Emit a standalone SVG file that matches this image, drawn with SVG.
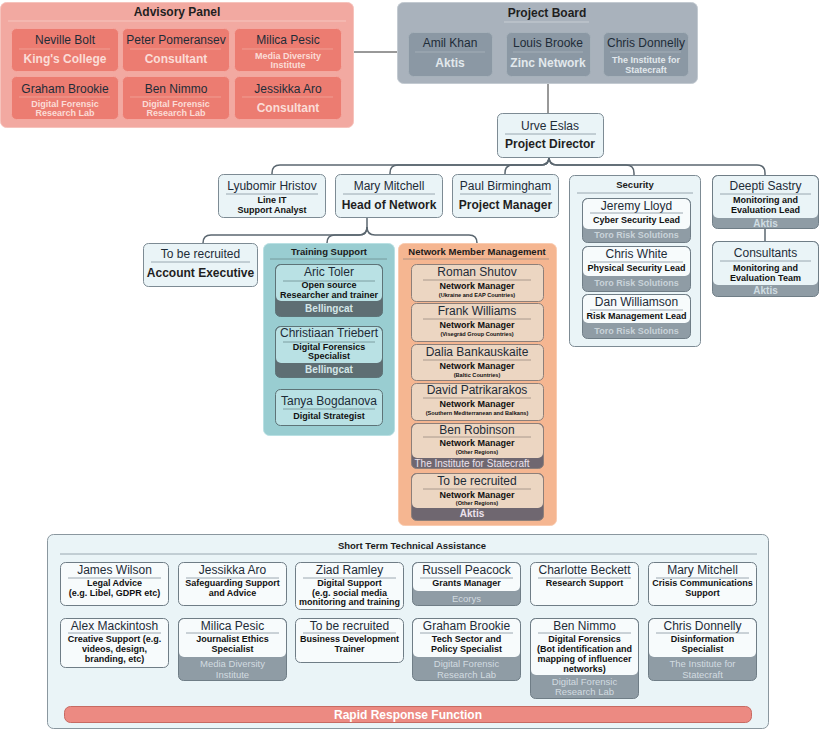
<svg xmlns="http://www.w3.org/2000/svg" width="819" height="731" viewBox="0 0 819 731">
<style>
text{font-family:'Liberation Sans',Arial,Helvetica,sans-serif;text-anchor:middle}
.n{font-size:12px;fill:#1e2c38}
.t{font-size:12px;font-weight:bold;fill:#1f1f1f}
.g{font-size:9.5px;font-weight:bold;fill:#1b1b1b}
.r{font-size:9px;font-weight:bold;fill:#111}
.rs{font-size:5.6px;font-weight:bold;fill:#111}
.ap{font-size:12px;font-weight:bold;fill:#fbdcd7}
.aps{font-size:9px;font-weight:bold;fill:#fbdcd7}
.bp{font-size:12px;font-weight:bold;fill:#e2e8ec}
.bps{font-size:9px;font-weight:bold;fill:#e2e8ec}
.bd{font-size:9px;font-weight:bold;fill:#c9d3d9}
.bd10{font-size:10px;font-weight:bold;fill:#d0dde2}
.bdt{font-size:10px;font-weight:bold;fill:#d4e6e8}
.bdn{font-size:10px;font-weight:bold;fill:#ece2ec}
.nmt{font-size:10px;fill:#ece2ec}
.sb{font-size:9.5px;fill:#d2dbe0}
.lt{fill:#eaf4f7;stroke:#7d8b94;stroke-width:1}
.ain{fill:#ec7c71;stroke:#f4a79f;stroke-width:1}
.asep{stroke:#f3a69d;stroke-width:0.8}
.bin{fill:#8b98a4;stroke:#a6b1ba;stroke-width:1}
.bsep{stroke:#a9b4bd;stroke-width:0.8}
.sep{stroke:#8795a0;stroke-width:0.8}
.ol{fill:none;stroke:#6f7d86;stroke-width:1}
.wt{fill:#f7fbfc}
.gb{fill:#8f9ca5}
.tin{fill:#b9e1e4}
.tb{fill:#5e6e73}
.tol{fill:none;stroke:#5d7377;stroke-width:1}
.tsep{stroke:#6d8d91;stroke-width:0.8}
.nin{fill:#ecd6c2}
.nb{fill:#6f6770}
.nol{fill:none;stroke:#8d7f79;stroke-width:1}
.nsep{stroke:#9a8a80;stroke-width:0.8}
.con{fill:none;stroke:#5b6770;stroke-width:1.5}
.dk{fill:none;stroke:#333;stroke-width:1}
</style>

<g id="connectors">
<line class="dk" x1="354" y1="52" x2="397" y2="52"/>
<line class="dk" x1="548" y1="83" x2="548" y2="113"/>
<path class="con" d="M549,157 q0,8 -8,8 H280 q-8,0 -8,8 v1"/>
<path class="con" d="M549,157 q0,8 -8,8 H398 q-8,0 -8,8 v1"/>
<path class="con" d="M549,157 q0,8 -8,8 H513 q-8,0 -8,8 v1"/>
<path class="con" d="M549,157 q0,8 8,8 H626 q8,0 8,8 v2"/>
<path class="con" d="M549,157 q0,8 8,8 H757 q8,0 8,8 v2"/>
<line class="con" x1="765" y1="228" x2="765" y2="241"/>
<path class="con" d="M367,218 v9 q0,8 -8,8 H211 q-8,0 -8,8"/>
<path class="con" d="M367,227 q0,8 -8,8 H335 q-8,0 -8,8"/>
<path class="con" d="M367,227 q0,8 8,8 H469 q8,0 8,8"/>
</g>

<g id="advisory-panel">
<rect x="0.5" y="2.5" width="353" height="125" rx="6" fill="#f2a9a1" stroke="#f6c3bc"/>
<text class="t" x="177" y="16">Advisory Panel</text>
<line x1="8" y1="21" x2="346" y2="21" stroke="#f6c5be"/>
<g id="neville-bolt"><rect class="ain" x="11.5" y="28.5" width="107" height="43" rx="5"/><text class="n" x="65" y="44">Neville Bolt</text><line class="asep" x1="19" y1="49" x2="110" y2="49"/><text class="ap" x="65" y="63">King's College</text></g>
<g id="peter-pomeransev"><rect class="ain" x="122.5" y="28.5" width="107" height="43" rx="5"/><text class="n" x="176" y="44">Peter Pomeransev</text><line class="asep" x1="130" y1="49" x2="221" y2="49"/><text class="ap" x="176" y="63">Consultant</text></g>
<g id="milica-pesic-ap"><rect class="ain" x="234.5" y="28.5" width="107" height="43" rx="5"/><text class="n" x="288" y="44">Milica Pesic</text><line class="asep" x1="242" y1="49" x2="333" y2="49"/><text class="aps" x="288" y="59">Media Diversity</text><text class="aps" x="288" y="68">Institute</text></g>
<g id="graham-brookie-ap"><rect class="ain" x="11.5" y="76.5" width="107" height="43" rx="5"/><text class="n" x="65" y="93">Graham Brookie</text><line class="asep" x1="19" y1="97" x2="110" y2="97"/><text class="aps" x="65" y="107">Digital Forensic</text><text class="aps" x="65" y="116">Research Lab</text></g>
<g id="ben-nimmo-ap"><rect class="ain" x="122.5" y="76.5" width="107" height="43" rx="5"/><text class="n" x="176" y="93">Ben Nimmo</text><line class="asep" x1="130" y1="97" x2="221" y2="97"/><text class="aps" x="176" y="107">Digital Forensic</text><text class="aps" x="176" y="116">Research Lab</text></g>
<g id="jessikka-aro-ap"><rect class="ain" x="234.5" y="76.5" width="107" height="43" rx="5"/><text class="n" x="288" y="93">Jessikka Aro</text><line class="asep" x1="242" y1="97" x2="333" y2="97"/><text class="ap" x="288" y="112">Consultant</text></g>
</g>

<g id="project-board">
<rect x="397.5" y="2.5" width="300" height="81" rx="6" fill="#a9b2bc" stroke="#c3cad1"/>
<text class="t" x="547" y="17">Project Board</text>
<line x1="504" y1="22" x2="589" y2="22" stroke="#c8ced4"/>
<g id="amil-khan"><rect class="bin" x="408.5" y="32.5" width="84" height="44" rx="5"/><text class="n" x="450" y="47">Amil Khan</text><line class="bsep" x1="415" y1="52" x2="485" y2="52"/><text class="bp" x="450" y="67">Aktis</text></g>
<g id="louis-brooke"><rect class="bin" x="506.5" y="32.5" width="84" height="44" rx="5"/><text class="n" x="548" y="47">Louis Brooke</text><line class="bsep" x1="513" y1="52" x2="583" y2="52"/><text class="bp" x="548" y="67">Zinc Network</text></g>
<g id="chris-donnelly-pb"><rect class="bin" x="603.5" y="32.5" width="85" height="44" rx="5"/><text class="n" x="646" y="47">Chris Donnelly</text><line class="bsep" x1="610" y1="52" x2="681" y2="52"/><text class="bps" x="646" y="63">The Institute for</text><text class="bps" x="646" y="73">Statecraft</text></g>
</g>

<g id="urve-eslas"><rect class="lt" x="497.5" y="113.5" width="106" height="44" rx="5"/><text class="n" x="550" y="130">Urve Eslas</text><line class="sep" x1="505" y1="134" x2="596" y2="134"/><text class="t" x="550" y="148">Project Director</text></g>

<g id="lyubomir-hristov"><rect class="lt" x="218.5" y="174.5" width="107" height="43" rx="5"/><text class="n" x="272" y="190">Lyubomir Hristov</text><line class="sep" x1="226" y1="194" x2="318" y2="194"/><text class="r" x="272" y="203">Line IT</text><text class="r" x="272" y="213">Support Analyst</text></g>
<g id="mary-mitchell"><rect class="lt" x="335.5" y="174.5" width="107" height="43" rx="5"/><text class="n" x="389" y="190">Mary Mitchell</text><line class="sep" x1="343" y1="194" x2="435" y2="194"/><text class="t" x="389" y="209">Head of Network</text></g>
<g id="paul-birmingham"><rect class="lt" x="452.5" y="174.5" width="106" height="43" rx="5"/><text class="n" x="505.5" y="190">Paul Birmingham</text><line class="sep" x1="460" y1="194" x2="551" y2="194"/><text class="t" x="505.5" y="209">Project Manager</text></g>

<g id="security">
<rect class="lt" x="569.5" y="175.5" width="131" height="171" rx="5"/>
<text class="g" x="635" y="188">Security</text>
<line class="sep" x1="577" y1="193" x2="693" y2="193"/>
<g id="jeremy-lloyd"><rect class="gb" x="582.5" y="198.5" width="108" height="44" rx="5"/><rect class="wt" x="583" y="199" width="107" height="30" rx="5"/><rect class="ol" x="582.5" y="198.5" width="108" height="44" rx="5"/><text class="n" x="636.5" y="209.5">Jeremy Lloyd</text><line class="sep" x1="590" y1="213" x2="683" y2="213"/><text class="r" x="636.5" y="223">Cyber Security Lead</text><text class="bd" x="636.5" y="238">Toro Risk Solutions</text></g>
<g id="chris-white"><rect class="gb" x="582.5" y="246.5" width="108" height="45" rx="5"/><rect class="wt" x="583" y="247" width="107" height="29" rx="5"/><rect class="ol" x="582.5" y="246.5" width="108" height="45" rx="5"/><text class="n" x="636.5" y="257.5">Chris White</text><line class="sep" x1="590" y1="262" x2="683" y2="262"/><text class="r" x="636.5" y="271">Physical Security Lead</text><text class="bd" x="636.5" y="286">Toro Risk Solutions</text></g>
<g id="dan-williamson"><rect class="gb" x="582.5" y="294.5" width="108" height="44" rx="5"/><rect class="wt" x="583" y="295" width="107" height="28" rx="5"/><rect class="ol" x="582.5" y="294.5" width="108" height="44" rx="5"/><text class="n" x="636.5" y="305.5">Dan Williamson</text><line class="sep" x1="590" y1="310" x2="683" y2="310"/><text class="r" x="636.5" y="319">Risk Management Lead</text><text class="bd" x="636.5" y="334">Toro Risk Solutions</text></g>
</g>

<g id="deepti-sastry"><rect class="gb" x="712.5" y="175.5" width="106" height="53" rx="5"/><rect fill="#eaf4f7" x="713" y="176" width="105" height="42" rx="5"/><rect class="ol" x="712.5" y="175.5" width="106" height="53" rx="5"/><text class="n" x="765.5" y="190">Deepti Sastry</text><line class="sep" x1="720" y1="194" x2="811" y2="194"/><text class="r" x="765.5" y="203">Monitoring and</text><text class="r" x="765.5" y="213">Evaluation Lead</text><text class="bd10" x="765.5" y="226.5">Aktis</text></g>
<g id="consultants"><rect class="gb" x="712.5" y="241.5" width="106" height="55" rx="5"/><rect fill="#eaf4f7" x="713" y="242" width="105" height="43" rx="5"/><rect class="ol" x="712.5" y="241.5" width="106" height="55" rx="5"/><text class="n" x="765.5" y="257">Consultants</text><line class="sep" x1="720" y1="261" x2="811" y2="261"/><text class="r" x="765.5" y="271">Monitoring and</text><text class="r" x="765.5" y="281">Evaluation Team</text><text class="bd10" x="765.5" y="294">Aktis</text></g>

<g id="account-executive"><rect class="lt" x="143.5" y="243.5" width="114" height="43" rx="5"/><text class="n" x="200.5" y="258">To be recruited</text><line class="sep" x1="151" y1="262" x2="250" y2="262"/><text class="t" x="200.5" y="277">Account Executive</text></g>

<g id="training-support">
<rect x="263.5" y="243.5" width="131" height="192" rx="6" fill="#99cdd1" stroke="#b9e0e3"/>
<text class="g" x="329" y="255">Training Support</text>
<line class="tsep" x1="270" y1="259" x2="387" y2="259"/>
<g id="aric-toler"><rect class="tb" x="275.5" y="264.5" width="107" height="52" rx="5"/><rect class="tin" x="276" y="265" width="106" height="36" rx="5"/><rect class="tol" x="275.5" y="264.5" width="107" height="52" rx="5"/><text class="n" x="329" y="275.5">Aric Toler</text><line class="tsep" x1="283" y1="281" x2="375" y2="281"/><text class="r" x="329" y="288">Open source</text><text class="r" x="329" y="297.5">Researcher and trainer</text><text class="bdt" x="329" y="312">Bellingcat</text></g>
<g id="christiaan-triebert"><rect class="tb" x="275.5" y="326.5" width="107" height="51" rx="5"/><rect class="tin" x="276" y="327" width="106" height="36" rx="5"/><rect class="tol" x="275.5" y="326.5" width="107" height="51" rx="5"/><text class="n" x="329" y="337">Christiaan Triebert</text><line class="tsep" x1="283" y1="342" x2="375" y2="342"/><text class="r" x="329" y="350">Digital Forensics</text><text class="r" x="329" y="359">Specialist</text><text class="bdt" x="329" y="373">Bellingcat</text></g>
<g id="tanya-bogdanova"><rect class="tin" x="275.5" y="389.5" width="107" height="36" rx="5" stroke="#5d7377"/><text class="n" x="329" y="405">Tanya Bogdanova</text><line class="tsep" x1="283" y1="409" x2="375" y2="409"/><text class="r" x="329" y="419">Digital Strategist</text></g>
</g>

<g id="network-member-management">
<rect x="398.5" y="243.5" width="158" height="282" rx="6" fill="#f5b691" stroke="#f9cbb0"/>
<text class="g" x="477" y="254.5">Network Member Management</text>
<line class="nsep" x1="403" y1="259" x2="549" y2="259"/>
<g id="roman-shutov"><rect class="nin" x="411.5" y="264.5" width="132" height="37" rx="5" stroke="#8d7f79"/><text class="n" x="477" y="275.5">Roman Shutov</text><line class="nsep" x1="423" y1="280" x2="531" y2="280"/><text class="r" x="477" y="289">Network Manager</text><text class="rs" x="477" y="297">(Ukraine and EAP Countries)</text></g>
<g id="frank-williams"><rect class="nin" x="411.5" y="303.5" width="132" height="38" rx="5" stroke="#8d7f79"/><text class="n" x="477" y="315">Frank Williams</text><line class="nsep" x1="423" y1="319" x2="531" y2="319"/><text class="r" x="477" y="328">Network Manager</text><text class="rs" x="477" y="336">(Visegrád Group Countries)</text></g>
<g id="dalia-bankauskaite"><rect class="nin" x="411.5" y="344.5" width="132" height="36" rx="5" stroke="#8d7f79"/><text class="n" x="477" y="355.5">Dalia Bankauskaite</text><line class="nsep" x1="423" y1="360" x2="531" y2="360"/><text class="r" x="477" y="369">Network Manager</text><text class="rs" x="477" y="377">(Baltic Countries)</text></g>
<g id="david-patrikarakos"><rect class="nin" x="411.5" y="383.5" width="132" height="37" rx="5" stroke="#8d7f79"/><text class="n" x="477" y="394">David Patrikarakos</text><line class="nsep" x1="423" y1="398" x2="531" y2="398"/><text class="r" x="477" y="407">Network Manager</text><text class="rs" x="477" y="415">(Southern Mediterranean and Balkans)</text></g>
<g id="ben-robinson"><rect class="nb" x="411.5" y="423.5" width="132" height="45" rx="5"/><rect class="nin" x="412" y="424" width="131" height="34" rx="5"/><rect class="nol" x="411.5" y="423.5" width="132" height="45" rx="5"/><text class="n" x="477" y="433.5">Ben Robinson</text><line class="nsep" x1="423" y1="437" x2="531" y2="437"/><text class="r" x="477" y="446">Network Manager</text><text class="rs" x="477" y="454">(Other Regions)</text><text class="nmt" x="472" y="466.5">The Institute for Statecraft</text></g>
<g id="to-be-recruited-nm"><rect class="nb" x="411.5" y="473.5" width="132" height="47" rx="5"/><rect class="nin" x="412" y="474" width="131" height="34" rx="5"/><rect class="nol" x="411.5" y="473.5" width="132" height="47" rx="5"/><text class="n" x="477" y="484.5">To be recruited</text><line class="nsep" x1="423" y1="489" x2="531" y2="489"/><text class="r" x="477" y="498">Network Manager</text><text class="rs" x="477" y="505">(Other Regions)</text><text class="bdn" x="472" y="517">Aktis</text></g>
</g>

<g id="short-term-technical-assistance">
<rect x="47.5" y="534.5" width="721" height="194" rx="6" fill="#eaf4f7" stroke="#8a979f"/>
<text class="g" x="412" y="548.5">Short Term Technical Assistance</text>
<line class="sep" x1="60" y1="554" x2="757" y2="554"/>

<g id="james-wilson"><rect class="wt" x="60.5" y="562.5" width="108" height="43" rx="5" stroke="#6f7d86"/><text class="n" x="114.5" y="573.5">James Wilson</text><line class="sep" x1="68" y1="578" x2="161" y2="578"/><text class="r" x="114.5" y="586">Legal Advice</text><text class="r" x="114.5" y="595.5">(e.g. Libel, GDPR etc)</text></g>
<g id="jessikka-aro"><rect class="wt" x="178.5" y="562.5" width="108" height="43" rx="5" stroke="#6f7d86"/><text class="n" x="232.5" y="573.5">Jessikka Aro</text><line class="sep" x1="186" y1="578" x2="279" y2="578"/><text class="r" x="232.5" y="586">Safeguarding Support</text><text class="r" x="232.5" y="595.5">and Advice</text></g>
<g id="ziad-ramley"><rect class="wt" x="295.5" y="562.5" width="108" height="47" rx="5" stroke="#6f7d86"/><text class="n" x="349.5" y="573.5">Ziad Ramley</text><line class="sep" x1="303" y1="578" x2="396" y2="578"/><text class="r" x="349.5" y="586">Digital Support</text><text class="r" x="349.5" y="595.5">(e.g. social media</text><text class="r" x="349.5" y="605">monitoring and training</text></g>
<g id="russell-peacock"><rect class="gb" x="412.5" y="562.5" width="108" height="43" rx="5"/><rect class="wt" x="413" y="563" width="107" height="28" rx="5"/><rect class="ol" x="412.5" y="562.5" width="108" height="43" rx="5"/><text class="n" x="466.5" y="573.5">Russell Peacock</text><line class="sep" x1="420" y1="578" x2="513" y2="578"/><text class="r" x="466.5" y="586">Grants Manager</text><text class="sb" x="466.5" y="601.5">Ecorys</text></g>
<g id="charlotte-beckett"><rect class="wt" x="530.5" y="562.5" width="108" height="43" rx="5" stroke="#6f7d86"/><text class="n" x="584.5" y="573.5">Charlotte Beckett</text><line class="sep" x1="538" y1="578" x2="631" y2="578"/><text class="r" x="584.5" y="586">Research Support</text></g>
<g id="mary-mitchell-stta"><rect class="wt" x="648.5" y="562.5" width="108" height="43" rx="5" stroke="#6f7d86"/><text class="n" x="702.5" y="573.5">Mary Mitchell</text><line class="sep" x1="656" y1="578" x2="749" y2="578"/><text class="r" x="702.5" y="586">Crisis Communications</text><text class="r" x="702.5" y="595.5">Support</text></g>

<g id="alex-mackintosh"><rect class="wt" x="60.5" y="618.5" width="108" height="49" rx="5" stroke="#6f7d86"/><text class="n" x="114.5" y="629.5">Alex Mackintosh</text><line class="sep" x1="68" y1="633" x2="161" y2="633"/><text class="r" x="114.5" y="642">Creative Support (e.g.</text><text class="r" x="114.5" y="652">videos, design,</text><text class="r" x="114.5" y="662">branding, etc)</text></g>
<g id="milica-pesic"><rect class="gb" x="178.5" y="618.5" width="108" height="62" rx="5"/><rect class="wt" x="179" y="619" width="107" height="38" rx="5"/><rect class="ol" x="178.5" y="618.5" width="108" height="62" rx="5"/><text class="n" x="232.5" y="629.5">Milica Pesic</text><line class="sep" x1="186" y1="633" x2="279" y2="633"/><text class="r" x="232.5" y="642">Journalist Ethics</text><text class="r" x="232.5" y="652">Specialist</text><text class="sb" x="232.5" y="667">Media Diversity</text><text class="sb" x="232.5" y="678">Institute</text></g>
<g id="to-be-recruited-bdt"><rect class="wt" x="295.5" y="618.5" width="108" height="44" rx="5" stroke="#6f7d86"/><text class="n" x="349.5" y="629.5">To be recruited</text><line class="sep" x1="303" y1="633" x2="396" y2="633"/><text class="r" x="349.5" y="642">Business Development</text><text class="r" x="349.5" y="652">Trainer</text></g>
<g id="graham-brookie"><rect class="gb" x="412.5" y="618.5" width="108" height="62" rx="5"/><rect class="wt" x="413" y="619" width="107" height="38" rx="5"/><rect class="ol" x="412.5" y="618.5" width="108" height="62" rx="5"/><text class="n" x="466.5" y="629.5">Graham Brookie</text><line class="sep" x1="420" y1="633" x2="513" y2="633"/><text class="r" x="466.5" y="642">Tech Sector and</text><text class="r" x="466.5" y="652">Policy Specialist</text><text class="sb" x="466.5" y="667">Digital Forensic</text><text class="sb" x="466.5" y="678">Research Lab</text></g>
<g id="ben-nimmo"><rect class="gb" x="530.5" y="618.5" width="108" height="80" rx="5"/><rect class="wt" x="531" y="619" width="107" height="56" rx="5"/><rect class="ol" x="530.5" y="618.5" width="108" height="80" rx="5"/><text class="n" x="584.5" y="629.5">Ben Nimmo</text><line class="sep" x1="538" y1="633" x2="631" y2="633"/><text class="r" x="584.5" y="642">Digital Forensics</text><text class="r" x="584.5" y="652">(Bot identification and</text><text class="r" x="584.5" y="662">mapping of influencer</text><text class="r" x="584.5" y="672">networks)</text><text class="sb" x="584.5" y="685">Digital Forensic</text><text class="sb" x="584.5" y="695">Research Lab</text></g>
<g id="chris-donnelly"><rect class="gb" x="648.5" y="618.5" width="108" height="62" rx="5"/><rect class="wt" x="649" y="619" width="107" height="38" rx="5"/><rect class="ol" x="648.5" y="618.5" width="108" height="62" rx="5"/><text class="n" x="702.5" y="629.5">Chris Donnelly</text><line class="sep" x1="656" y1="633" x2="749" y2="633"/><text class="r" x="702.5" y="642">Disinformation</text><text class="r" x="702.5" y="652">Specialist</text><text class="sb" x="702.5" y="667">The Institute for</text><text class="sb" x="702.5" y="678">Statecraft</text></g>

<g id="rapid-response-function"><rect x="64.5" y="706.5" width="687" height="16" rx="6" fill="#ec8a82" stroke="#c76a62"/><text x="408" y="719" font-size="12" font-weight="bold" fill="#ffffff">Rapid Response Function</text></g>
</g>
</svg>
